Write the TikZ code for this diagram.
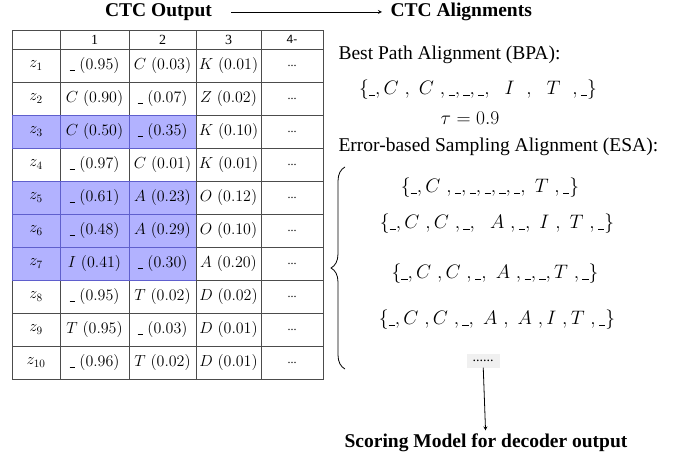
\RequirePackage{fix-cm}
\documentclass[tikz,border=0pt]{standalone}
\usepackage{fontspec}
\newfontfamily\tms{Liberation Serif}
\newfontfamily\arl{Liberation Sans}
\usetikzlibrary{arrows,decorations.pathreplacing}
\definecolor{pickfill}{RGB}{178,178,255}
\definecolor{pickline}{RGB}{95,95,205}
\newcommand{\blk}{\mbox{\rule[-0.07em]{0.32em}{0.055em}}}
\tikzstyle{cell} = [rectangle, draw=black!70, fill=white, line width=0.8pt, inner sep=0pt, minimum height=33pt, font=\fontsize{16}{19}\selectfont]
\tikzstyle{pick} = [cell, draw=pickline, fill=pickfill]
\tikzstyle{colhead} = [cell, minimum height=19pt, font=\tms\fontsize{14}{16}\selectfont]
\tikzstyle{bigbold} = [font=\tms\bfseries\fontsize{19.5}{23}\selectfont]
\tikzstyle{heading} = [font=\tms\fontsize{19.5}{23}\selectfont, anchor=west]
\tikzstyle{seq} = [font=\fontsize{19.5}{23}\selectfont]
\tikzstyle{arrow} = [line width=0.8pt,->,>=stealth]

\begin{document}
\begin{tikzpicture}[x=1pt,y=-1pt]
    \useasboundingbox (0,0) rectangle (678,457);
    \node (h0) [colhead, minimum width=48pt] at (36,39.5) {};
    \node (h1) [colhead, minimum width=69pt] at (94.5,39.5) {1};
    \node (h2) [colhead, minimum width=67pt] at (162.5,39.5) {2};
    \node (h3) [colhead, minimum width=65pt] at (228.5,39.5) {3};
    \node (h4) [colhead, minimum width=62pt, font=\arl\fontsize{12}{14}\selectfont] at (292,39.5) {4-};
    \foreach \i/\sa/\pa/\sb/\pb/\sc/\pc/\st in {1/\blk/0.95/C/0.03/K/0.01/cell, 2/C/0.90/\blk/0.07/Z/0.02/cell,
        4/\blk/0.97/C/0.01/K/0.01/cell, 8/\blk/0.95/T/0.02/D/0.02/cell, 9/T/0.95/\blk/0.03/D/0.01/cell,
        10/\blk/0.96/T/0.02/D/0.01/cell, 3/C/0.50/\blk/0.35/K/0.10/pick, 5/\blk/0.61/A/0.23/O/0.12/pick,
        6/\blk/0.48/A/0.29/O/0.10/pick, 7/I/0.41/\blk/0.30/A/0.20/pick}{
        \node (z\i) [\st, minimum width=48pt] at (36,32.5+33*\i) {$z_{\i}$};
        \node (z\i-1) [\st, minimum width=69pt] at (94.5,32.5+33*\i) {$\sa\ (\pa)$};
        \node (z\i-2) [\st, minimum width=67pt] at (162.5,32.5+33*\i) {$\sb\ (\pb)$};
        \node (z\i-3) [cell, minimum width=65pt] at (228.5,32.5+33*\i) {$\sc\ (\pc)$};
        \node (z\i-4) [cell, minimum width=62pt] at (292,32.5+33*\i) {\tms\fontsize{12}{14}\selectfont ...};
    }

    \node (out) [bigbold] at (158.5,12) {CTC Output};
    \node (align) [bigbold, anchor=west] at (387,12) {CTC Alignments};
    \draw [arrow, shorten <=16pt, shorten >=5pt] (out) -- (align);

    \node (bpa) [heading] at (335,55) {Best Path Alignment (BPA):};
    \node (bpaseq) [seq] at (478,90) {$\{\blk,C\ ,\ C\ ,\blk,\blk,\blk,\ \ I\ \ ,\ \ T\ \ ,\blk\}$};
    \node (tau) [seq] at (470,118) {$\tau = 0.9$};
    \node (esa) [heading] at (335,147) {Error-based Sampling Alignment (ESA):};
    \node (esa1) [seq] at (490,188) {$\{\blk,C\ ,\blk,\blk,\blk,\blk,\blk,\ T\ ,\blk\}$};
    \node (esa2) [seq] at (497,224) {$\{\blk,C\ ,C\ ,\blk,\ \ A\ ,\blk,\ I\ ,\ T\ ,\blk\}$};
    \node (esa3) [seq] at (495,274) {$\{\blk,C\ ,C\ ,\blk,\ A\ ,\blk,\blk,T\ ,\blk\}$};
    \node (esa4) [seq] at (497,320) {$\{\blk,C\ ,C\ ,\blk,\ A\ ,\ A\ ,I\ ,T\ ,\blk\}$};
    \node (more) [fill=black!6, inner sep=0pt, minimum width=33pt, minimum height=13pt, font=\tms\fontsize{14}{16}\selectfont] at (483,361) {......};
    \node (score) [bigbold] at (486,443) {Scoring Model for decoder output};
    \draw [arrow] (more) -- (score);
    \draw [decorate, decoration={brace, amplitude=14pt}, line width=0.8pt] (345,369) -- (345,167);
\end{tikzpicture}
\end{document}
